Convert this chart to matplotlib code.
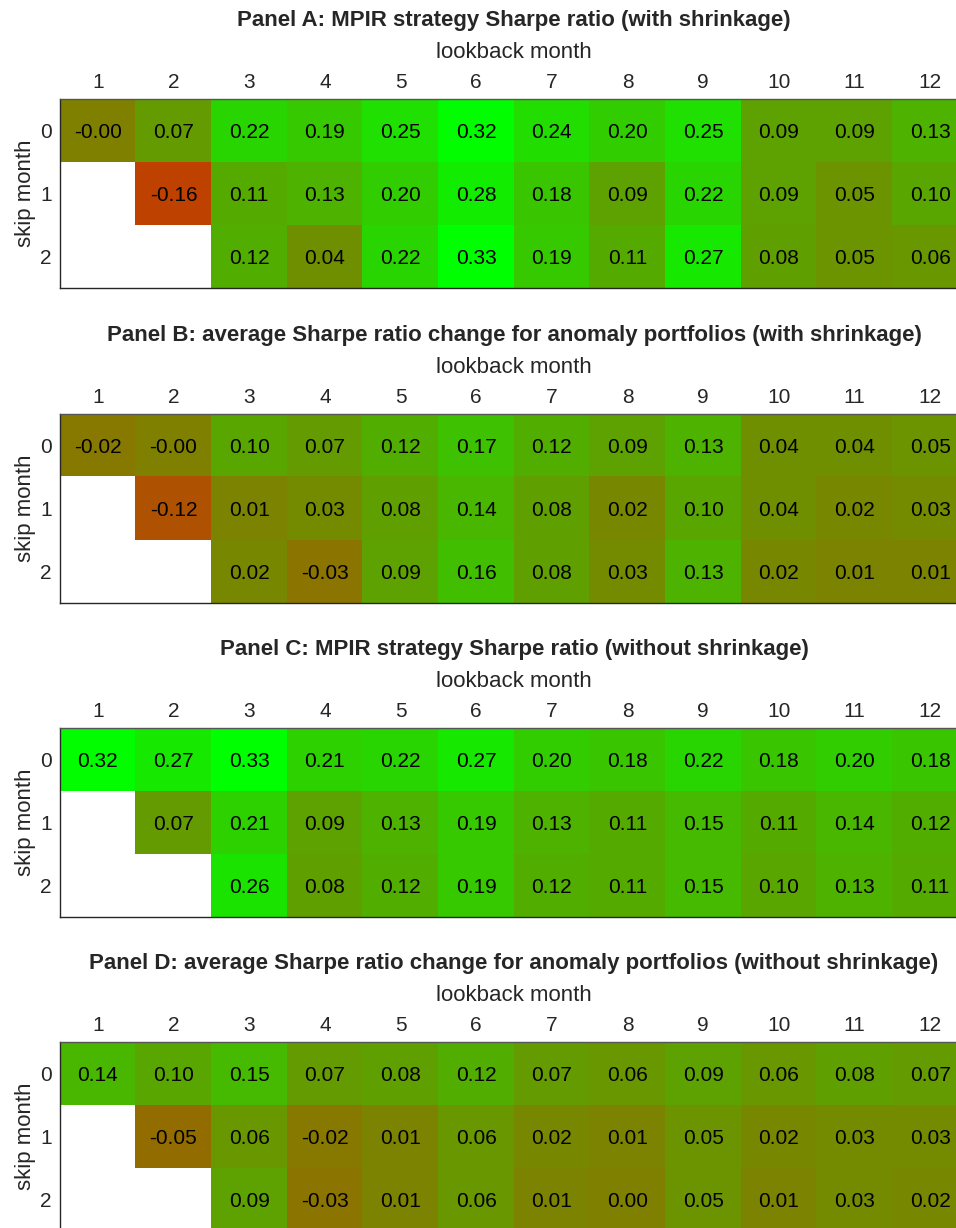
import numpy as np
import matplotlib
matplotlib.use("Agg")
import matplotlib.pyplot as plt
from matplotlib.colors import LinearSegmentedColormap

nan = np.nan
lookback = [1, 2, 3, 4, 5, 6, 7, 8, 9, 10, 11, 12]
skip = [0, 1, 2]

titles = [
    "Panel A: MPIR strategy Sharpe ratio (with shrinkage)",
    "Panel B: average Sharpe ratio change for anomaly portfolios (with shrinkage)",
    "Panel C: MPIR strategy Sharpe ratio (without shrinkage)",
    "Panel D: average Sharpe ratio change for anomaly portfolios (without shrinkage)",
]

panel_a = [
    [-0.0, 0.07, 0.22, 0.19, 0.25, 0.32, 0.24, 0.20, 0.25, 0.09, 0.09, 0.13],
    [nan, -0.16, 0.11, 0.13, 0.20, 0.28, 0.18, 0.09, 0.22, 0.09, 0.05, 0.10],
    [nan, nan, 0.12, 0.04, 0.22, 0.33, 0.19, 0.11, 0.27, 0.08, 0.05, 0.06],
]
panel_b = [
    [-0.02, -0.0, 0.10, 0.07, 0.12, 0.17, 0.12, 0.09, 0.13, 0.04, 0.04, 0.05],
    [nan, -0.12, 0.01, 0.03, 0.08, 0.14, 0.08, 0.02, 0.10, 0.04, 0.02, 0.03],
    [nan, nan, 0.02, -0.03, 0.09, 0.16, 0.08, 0.03, 0.13, 0.02, 0.01, 0.01],
]
panel_c = [
    [0.32, 0.27, 0.33, 0.21, 0.22, 0.27, 0.20, 0.18, 0.22, 0.18, 0.20, 0.18],
    [nan, 0.07, 0.21, 0.09, 0.13, 0.19, 0.13, 0.11, 0.15, 0.11, 0.14, 0.12],
    [nan, nan, 0.26, 0.08, 0.12, 0.19, 0.12, 0.11, 0.15, 0.10, 0.13, 0.11],
]
panel_d = [
    [0.14, 0.10, 0.15, 0.07, 0.08, 0.12, 0.07, 0.06, 0.09, 0.06, 0.08, 0.07],
    [nan, -0.05, 0.06, -0.02, 0.01, 0.06, 0.02, 0.01, 0.05, 0.02, 0.03, 0.03],
    [nan, nan, 0.09, -0.03, 0.01, 0.06, 0.01, 0.00, 0.05, 0.01, 0.03, 0.02],
]
panels = [panel_a, panel_b, panel_c, panel_d]

plt.rcParams['font.family'] = ['Liberation Sans', 'DejaVu Sans']

W, H = 956, 1228
fig = plt.figure(figsize=(W / 100, H / 100), dpi=100)

cmap = LinearSegmentedColormap.from_list("rg", [(1, 0, 0), (0, 1, 0)])
cmap.set_bad("white")
vmin, vmax = -0.33, 0.33

ax_left, ax_right = 60, 968
ax_tops = [99, 414, 728, 1042]
ax_h = 189
txt = '#262626'

for k, (data, title, top) in enumerate(zip(panels, titles, ax_tops)):
    arr = np.ma.masked_invalid(np.array(data, dtype=float))
    ax = fig.add_axes([ax_left / W, 1 - (top + ax_h) / H,
                       (ax_right - ax_left) / W, ax_h / H])
    ax.imshow(arr, cmap=cmap, vmin=vmin, vmax=vmax, aspect='auto',
              interpolation='nearest')
    for i in range(len(skip)):
        for j in range(len(lookback)):
            v = data[i][j]
            if not np.isnan(v):
                ax.text(j, i, f"{v:.2f}", ha='center', va='center_baseline',
                        fontsize=15, color='black')
    ax.set_xticks(range(len(lookback)))
    ax.set_xticklabels([str(x) for x in lookback], fontsize=15, color=txt)
    ax.set_yticks(range(len(skip)))
    ax.set_yticklabels([str(s) for s in skip], fontsize=15, color=txt,
                       va='center_baseline')
    ax.xaxis.tick_top()
    ax.xaxis.set_label_position('top')
    ax.tick_params(axis='x', length=0, pad=4.8)
    ax.tick_params(axis='y', length=0, pad=6)
    ax.set_xlabel("lookback month", fontsize=16, labelpad=10.7, color=txt)
    ax.set_ylabel("skip month", fontsize=16, labelpad=2.8, color=txt)
    ax.set_title(title, fontsize=16, fontweight='bold', pad=12, color=txt)
    for sp in ax.spines.values():
        sp.set_color('#262626')
        sp.set_linewidth(1.0)
    ax.spines['top'].set_color('#555555')

fig.savefig("out.png", dpi=100)
